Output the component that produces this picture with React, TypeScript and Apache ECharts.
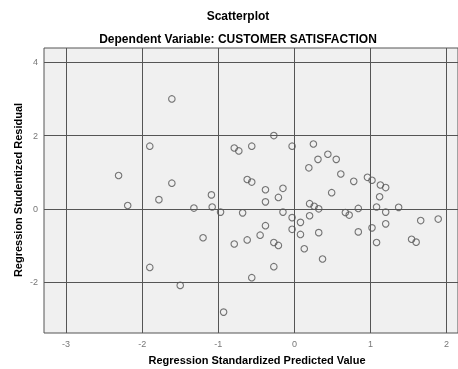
import React, { useEffect, useRef } from "react";
import * as echarts from "echarts";

// Regression Standardized Predicted Value (x) and Regression Studentized Residual (y)
const predicted: number[] = [
  -2.31, -2.19, -1.90, -1.90, -1.78, -1.61, -1.61, -1.50, -1.32, -1.20,
  -1.09, -1.08, -0.97, -0.93, -0.79, -0.73, -0.56, -0.27, -0.03, -0.62,
  -0.56, -0.38, -0.15, -0.21, -0.38, -0.68, -0.15, -0.03, 0.08, -0.03,
  0.08, -0.38, -0.45, -0.62, -0.79, -0.27, -0.21, 0.13, -0.27, -0.56,
  0.19, 0.25, 0.31, 0.44, 0.55, 0.61, 0.78, 0.96, 1.02, 1.13,
  1.20, 0.49, 1.12, 0.20, 0.26, 0.32, 0.20, 0.32, 0.37, 0.67,
  0.72, 0.84, 0.84, 1.02, 1.08, 1.08, 1.20, 1.20, 1.37, 1.54,
  1.60, 1.66, 1.89,
];
const residual: number[] = [
  0.91, 0.09, 1.71, -1.60, 0.25, 3.00, 0.70, -2.09, 0.02, -0.79,
  0.38, 0.05, -0.09, -2.82, 1.66, 1.58, 1.71, 2.00, 1.71, 0.80,
  0.73, 0.52, 0.56, 0.31, 0.19, -0.11, -0.09, -0.24, -0.37, -0.56,
  -0.70, -0.46, -0.72, -0.85, -0.96, -0.92, -1.00, -1.09, -1.58, -1.88,
  1.12, 1.77, 1.35, 1.49, 1.35, 0.95, 0.75, 0.86, 0.78, 0.65,
  0.58, 0.44, 0.33, 0.14, 0.07, 0.00, -0.19, -0.65, -1.37, -0.10,
  -0.17, 0.01, -0.63, -0.52, -0.92, 0.05, -0.09, -0.41, 0.04, -0.83,
  -0.91, -0.32, -0.28,
];

const xTicks: number[] = [-3, -2, -1, 0, 1, 2];
const yTicks: number[] = [-2, 0, 2, 4];

const chartTitle = "Scatterplot";
const chartSubtitle = "Dependent Variable: CUSTOMER SATISFACTION";
const xName = "Regression Standardized Predicted Value";
const yName = "Regression Studentized Residual";

export default function App() {
  const ref = useRef<HTMLDivElement>(null);
  useEffect(() => {
    if (!ref.current) return;
    const chart = echarts.init(ref.current, undefined, { renderer: "svg" });
    const data = predicted.map((x, i) => [x, residual[i]]);
    const font = "'Liberation Sans', Arial, sans-serif";
    chart.setOption({
      animation: false,
      textStyle: { fontFamily: font },
      grid: {
        left: 44,
        top: 48,
        right: -1,
        bottom: 36,
        show: true,
        backgroundColor: "#F0F0F0",
        borderColor: "#555",
        borderWidth: 1,
        containLabel: false,
      },
      graphic: [
        {
          type: "text",
          x: 238,
          y: 16,
          style: {
            text: chartTitle,
            font: `bold 12px ${font}`,
            fill: "#000",
            textAlign: "center",
            textVerticalAlign: "middle",
          },
        },
        {
          type: "text",
          x: 238,
          y: 39,
          style: {
            text: chartSubtitle,
            font: `bold 12px ${font}`,
            fill: "#000",
            textAlign: "center",
            textVerticalAlign: "middle",
          },
        },
        {
          type: "text",
          x: 257,
          y: 360,
          style: {
            text: xName,
            font: `bold 11px ${font}`,
            fill: "#000",
            textAlign: "center",
            textVerticalAlign: "middle",
          },
        },
        {
          type: "text",
          x: 18,
          y: 190,
          rotation: Math.PI / 2,
          style: {
            text: yName,
            font: `bold 11px ${font}`,
            fill: "#000",
            textAlign: "center",
            textVerticalAlign: "middle",
          },
        },
      ],
      xAxis: {
        type: "value",
        min: -3.29,
        max: 2.15,
        axisLine: { show: false },
        axisTick: { show: false },
        splitLine: { show: false },
        axisLabel: {
          customValues: xTicks,
          color: "#777",
          fontSize: 9,
          margin: 6,
          fontFamily: font,
          formatter: (v: number) => String(v),
        },
      },
      yAxis: {
        type: "value",
        min: -3.39,
        max: 4.39,
        axisLine: { show: false },
        axisTick: { show: true, customValues: yTicks, length: 5, lineStyle: { color: "#777" } },
        splitLine: { show: false },
        axisLabel: {
          customValues: yTicks,
          color: "#777",
          fontSize: 9,
          margin: 6,
          fontFamily: font,
          formatter: (v: number) => String(v),
        },
      },
      series: [
        {
          type: "scatter",
          data,
          symbol: "circle",
          symbolSize: 6.5,
          itemStyle: {
            color: "transparent",
            borderColor: "#555",
            borderWidth: 1.1,
          },
          z: 3,
          markLine: {
            silent: true,
            symbol: ["none", "none"],
            label: { show: false },
            lineStyle: { color: "#555", type: "solid", width: 1 },
            data: [
              ...xTicks.map((v) => ({ xAxis: v })),
              ...yTicks.map((v) => ({ yAxis: v })),
            ],
          },
        },
      ],
    });
    return () => chart.dispose();
  }, []);
  return (
    <div
      ref={ref}
      style={{ position: "fixed", left: 0, top: 0, width: 458, height: 369 }}
    />
  );
}
